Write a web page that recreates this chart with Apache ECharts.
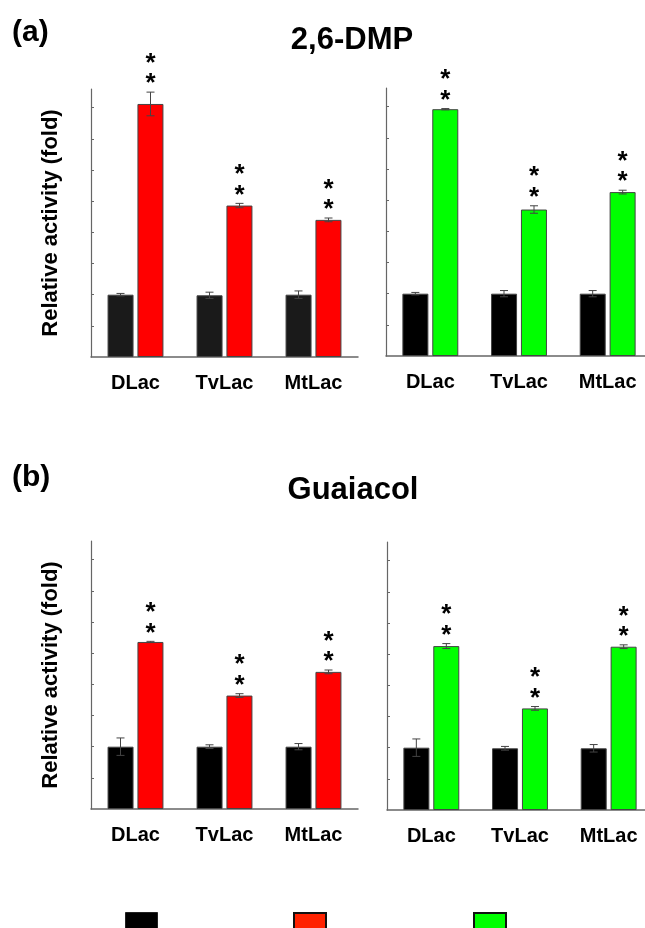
<!DOCTYPE html>
<html><head><meta charset="utf-8">
<script src="https://cdn.jsdelivr.net/npm/echarts@6/dist/echarts.min.js"></script>
<style>html,body{margin:0;padding:0;background:#fff;overflow:hidden}#c{width:660px;height:928px}</style>
</head><body><div id="c"></div>
<script>
// ---- data ----
const categories = ['DLac', 'TvLac', 'MtLac'];
const yTicks = [0.5, 1, 1.5, 2, 2.5, 3, 3.5, 4];

// (a) 2,6-DMP
const dmpCtrlRed = [1.00, 0.99, 1.00];
const dmpCtrlRedErr = [0.02, 0.05, 0.06];
const dmpRed = [4.06, 2.43, 2.20];
const dmpRedErr = [0.19, 0.035, 0.03];
const dmpRedSig = ['**', '**', '**'];

const dmpCtrlGreen = [1.00, 1.00, 1.00];
const dmpCtrlGreenErr = [0.02, 0.05, 0.05];
const dmpGreen = [3.96, 2.35, 2.63];
const dmpGreenErr = [0.01, 0.06, 0.03];
const dmpGreenSig = ['**', '**', '**'];

// (b) Guaiacol
const guaCtrlRed = [1.00, 1.00, 1.00];
const guaCtrlRedErr = [0.14, 0.03, 0.05];
const guaRed = [2.68, 1.82, 2.20];
const guaRedErr = [0.01, 0.03, 0.03];
const guaRedSig = ['**', '**', '**'];

const guaCtrlGreen = [1.00, 0.99, 0.99];
const guaCtrlGreenErr = [0.14, 0.03, 0.06];
const guaGreen = [2.63, 1.63, 2.62];
const guaGreenErr = [0.04, 0.03, 0.03];
const guaGreenSig = ['**', '**', '**'];

const seriesNames = ['Control', 'Red', 'Green'];
const panelLabels = ['(a)', '(b)'];
const panelTitles = ['2,6-DMP', 'Guaiacol'];
const yAxisName = 'Relative activity (fold)';

// ---- chart ----
const FONT = '"Liberation Sans", Arial, Helvetica, sans-serif';
const chart = echarts.init(document.getElementById('c'), null, {renderer: 'canvas'});

const panels = [
  {grid: {left: 91, top: 89, width: 267, height: 268}, ctrl: dmpCtrlRed, ctrlErr: dmpCtrlRedErr, val: dmpRed, err: dmpRedErr, sig: dmpRedSig, color: '#ff0000', ctrlColor: '#1a1a1a', name: 'Red', yName: true},
  {grid: {left: 386, top: 88, width: 266, height: 268}, ctrl: dmpCtrlGreen, ctrlErr: dmpCtrlGreenErr, val: dmpGreen, err: dmpGreenErr, sig: dmpGreenSig, color: '#00ff00', ctrlColor: '#000000', name: 'Green', yName: false},
  {grid: {left: 91, top: 541, width: 267, height: 268}, ctrl: guaCtrlRed, ctrlErr: guaCtrlRedErr, val: guaRed, err: guaRedErr, sig: guaRedSig, color: '#ff0000', ctrlColor: '#000000', name: 'Red', yName: true},
  {grid: {left: 387, top: 542, width: 266, height: 268}, ctrl: guaCtrlGreen, ctrlErr: guaCtrlGreenErr, val: guaGreen, err: guaGreenErr, sig: guaGreenSig, color: '#00ff00', ctrlColor: '#000000', name: 'Green', yName: false}
];

const grid = [], xAxis = [], yAxis = [], series = [];
const BAR_OFF = 15;

function errSeries(i, vals, errs, sigs, off) {
  return {
    type: 'custom', name: 'err' + i + off, xAxisIndex: i, yAxisIndex: i, z: 10, silent: true,
    data: vals.map((v, k) => [k, v, errs[k]]),
    renderItem: function (params, api) {
      const k = api.value(0), v = api.value(1), e = api.value(2);
      const top = api.coord([k, v + e]);
      const bot = api.coord([k, v - e]);
      const x = top[0] + off;
      const cap = 4;
      const children = [
        {type: 'line', shape: {x1: x, y1: top[1], x2: x, y2: bot[1]}, style: {stroke: '#444', lineWidth: 1}},
        {type: 'line', shape: {x1: x - cap, y1: top[1], x2: x + cap, y2: top[1]}, style: {stroke: '#444', lineWidth: 1}},
        {type: 'line', shape: {x1: x - cap, y1: bot[1], x2: x + cap, y2: bot[1]}, style: {stroke: '#444', lineWidth: 1}}
      ];
      const s = sigs ? sigs[params.dataIndex] : '';
      if (s) {
        for (let j = 0; j < s.length; j++) {
          children.push({type: 'text', style: {x: x, y: top[1] - 8 - j * 20.5, text: '*', fill: '#000',
            font: 'bold 26px ' + FONT, textAlign: 'center', textVerticalAlign: 'middle'}});
        }
      }
      return {type: 'group', children: children};
    }
  };
}

panels.forEach((p, i) => {
  grid.push(Object.assign({containLabel: false}, p.grid));
  xAxis.push({
    type: 'category', gridIndex: i, data: categories,
    axisLine: {lineStyle: {color: '#666', width: 1.5}},
    axisTick: {show: false},
    axisLabel: {color: '#000', fontFamily: FONT, fontWeight: 'bold', fontSize: 20, margin: 16}
  });
  yAxis.push({
    type: 'value', gridIndex: i, min: 0, max: 4.3, interval: 0.5,
    name: p.yName ? yAxisName : '', nameLocation: 'middle', nameGap: 29,
    nameTextStyle: {color: '#000', fontFamily: FONT, fontWeight: 'bold', fontSize: 22},
    axisLine: {show: true, lineStyle: {color: '#666', width: 1.2}},
    axisTick: {show: true, inside: true, length: 3, lineStyle: {color: '#666'}, customValues: yTicks},
    axisLabel: {show: false},
    splitLine: {show: false}
  });
  series.push({
    type: 'bar', name: 'Control', xAxisIndex: i, yAxisIndex: i, data: p.ctrl,
    barWidth: 26, barGap: '15%',
    itemStyle: {color: p.ctrlColor, borderColor: '#444', borderWidth: 1}
  });
  series.push({
    type: 'bar', name: p.name, xAxisIndex: i, yAxisIndex: i, data: p.val,
    barWidth: 26, barGap: '15%',
    itemStyle: {color: p.color, borderColor: '#444', borderWidth: 1}
  });
  series.push(errSeries(i, p.ctrl, p.ctrlErr, null, -BAR_OFF));
  series.push(errSeries(i, p.val, p.err, p.sig, BAR_OFF));
});

const labelStyle = {color: '#000', fontFamily: FONT, fontWeight: 'bold', fontSize: 30};
const titleStyle = {color: '#000', fontFamily: FONT, fontWeight: 'bold', fontSize: 31};
const legendBase = {top: 912, itemWidth: 32, itemHeight: 18, icon: 'rect', formatter: () => '', selectedMode: false, padding: 0};
const option = {
  backgroundColor: '#fff',
  animation: false,
  title: [
    {text: panelLabels[0], left: 12, top: 18, padding: 0, textStyle: labelStyle},
    {text: panelTitles[0], left: 352, top: 25, padding: 0, textAlign: 'center', textStyle: titleStyle},
    {text: panelLabels[1], left: 12, top: 463, padding: 0, textStyle: labelStyle},
    {text: panelTitles[1], left: 353, top: 475, padding: 0, textAlign: 'center', textStyle: titleStyle}
  ],
  legend: [
    Object.assign({data: [{name: seriesNames[0], itemStyle: {color: '#000', borderColor: '#222', borderWidth: 1}}], left: 125}, legendBase),
    Object.assign({data: [{name: seriesNames[1], itemStyle: {color: '#ff2200', borderColor: '#111', borderWidth: 2}}], left: 293}, legendBase),
    Object.assign({data: [{name: seriesNames[2], itemStyle: {color: '#00ff00', borderColor: '#111', borderWidth: 2}}], left: 473}, legendBase)
  ],
  grid: grid, xAxis: xAxis, yAxis: yAxis, series: series
};
chart.setOption(option);
</script></body></html>
